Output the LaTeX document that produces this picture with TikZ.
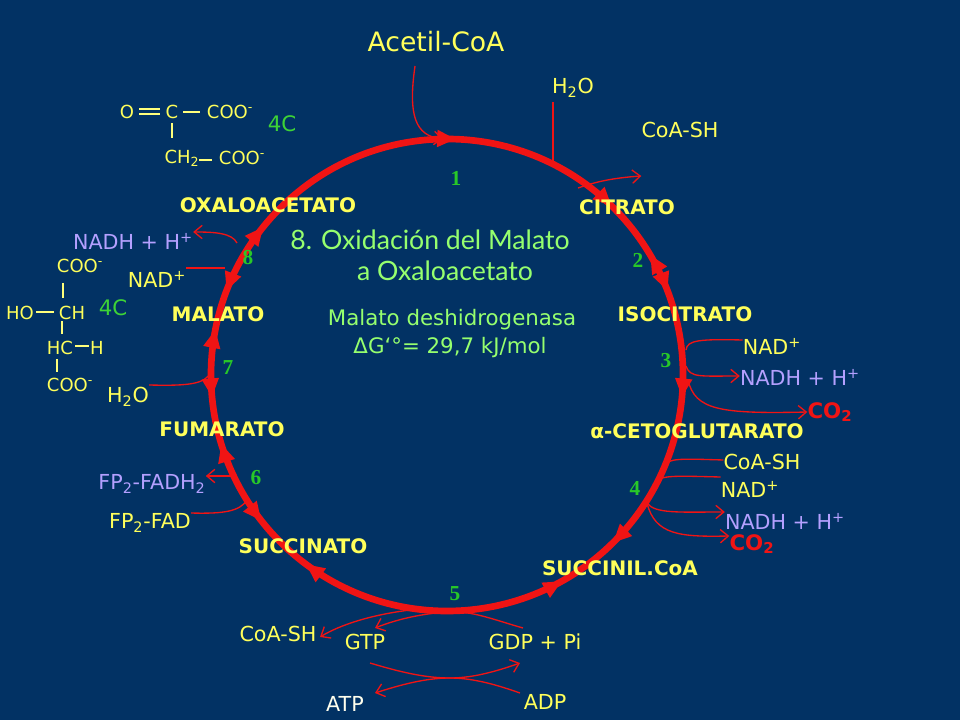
\documentclass[tikz,border=0pt]{standalone}
\usepackage{fontspec}
\setmainfont{DejaVu Sans}
\newfontfamily\numfont{Liberation Serif}
\newfontfamily\titlefont{Lato}
\usetikzlibrary{arrows.meta,decorations.markings}
\definecolor{bgblue}{RGB}{2,50,100}
\definecolor{ylw}{RGB}{255,255,90}
\definecolor{lila}{RGB}{180,160,255}
\definecolor{lgreen}{RGB}{150,255,110}
\definecolor{ngreen}{RGB}{40,200,40}
\definecolor{cred}{RGB}{240,20,20}
\begin{document}
\begin{tikzpicture}[x=0.75pt,y=-0.75pt,
    lbl/.style={text=ylw, font=\fontsize{15.5}{17}\selectfont, inner sep=0pt},
    mol/.style={text=ylw, font=\fontsize{13.5}{15}\selectfont, inner sep=0pt},
    cpd/.style={text=ylw, font=\fontsize{15}{17}\selectfont\bfseries, inner sep=0pt},
    nadh/.style={lbl, text=lila},
    num/.style={text=ngreen, font=\fontsize{16}{18}\selectfont\numfont\bfseries, inner sep=0pt},
    note/.style={text=lgreen, font=\fontsize{20}{24}\selectfont\titlefont, inner sep=0pt},
    side/.style={draw=cred, line width=1pt},
    sidearr/.style={side, -{Straight Barb[length=6pt,width=10pt]}},
    bond/.style={draw=ylw!80!white, line width=0.8pt}]
  \fill[bgblue] (0,0) rectangle (960,720);
  \useasboundingbox (0,0) rectangle (960,720);

  % the cycle
  \draw[cred, line width=5pt,
    decoration={markings,
      mark=at position 0.006 with {\arrow{Triangle[length=14pt,width=12pt]}},
      mark=at position 0.123 with {\arrow{Triangle[length=14pt,width=12pt]}},
      mark=at position 0.165 with {\arrowreversed{Triangle[length=14pt,width=12pt]}},
      mark=at position 0.192 with {\arrow{Triangle[length=14pt,width=12pt]}},
      mark=at position 0.265 with {\arrow{Triangle[length=14pt,width=12pt]}},
      mark=at position 0.376 with {\arrow{Triangle[length=14pt,width=12pt]}},
      mark=at position 0.419 with {\arrowreversed{Triangle[length=14pt,width=12pt]}},
      mark=at position 0.602 with {\arrow{Triangle[length=14pt,width=12pt]}},
      mark=at position 0.644 with {\arrowreversed{Triangle[length=14pt,width=12pt]}},
      mark=at position 0.703 with {\arrow{Triangle[length=14pt,width=12pt]}},
      mark=at position 0.735 with {\arrowreversed{Triangle[length=14pt,width=12pt]}},
      mark=at position 0.781 with {\arrow{Triangle[length=14pt,width=12pt]}},
      mark=at position 0.808 with {\arrowreversed{Triangle[length=14pt,width=12pt]}},
      mark=at position 0.858 with {\arrow{Triangle[length=14pt,width=12pt]}}},
    postaction={decorate}]
    (447,139) arc[start angle=-90, end angle=270, radius=236];

  % top
  \node[lbl, font=\fontsize{20}{24}\selectfont] (acetil) at (436,42) {Acetil-CoA};
  \node[lbl] (h2oA) at (573,88) {H\textsubscript{2}O};
  \node[lbl] (coashA) at (680,130) {CoA-SH};
  \node[num] (n1) at (456,178) {1};
  \coordinate (acTop) at (415,66);
  \coordinate (acIn) at (443,139);
  \coordinate (h2oTop) at (553,102);
  \coordinate (h2oIn) at (553,165);
  \coordinate (coaOut) at (578,188);
  \draw[sidearr] (acTop) .. controls (408,115) and (415,136) .. (acIn);
  \draw[side] (h2oTop) -- (h2oIn);
  \draw[sidearr] (coaOut) .. controls (595,182) and (612,178) .. (coashA.west |- 0,176);

  % oxaloacetate formula
  \node[mol] (oO) at (127,112) {O};
  \node[mol] (oC) at (172,112) {C};
  \node[mol] (oCOO) at (230,112) {COO\textsuperscript{-}};
  \node[mol] (oCH) at (182,158) {CH\textsubscript{2}};
  \node[mol] (oCOOb) at (242,158) {COO\textsuperscript{-}};
  \draw[bond] (139,109) -- (160,109) (139,114) -- (160,114);
  \draw[bond] (183,112) -- (200,112);
  \draw[bond] (199,160) -- (212,160);
  \draw[bond] (172,123) -- (172,138);
  \node[note, text=ngreen!80!lgreen, font=\fontsize{16}{18}\selectfont] (c4a) at (282,124) {4C};

  \node[cpd] (oxal) at (268,205) {OXALOACETATO};
  \node[cpd] (citr) at (627,207) {CITRATO};
  \node[note] (t1) at (430,240) {8. Oxidación del Malato};
  \node[note] (t2) at (445,271) {a Oxaloacetato};
  \node[note, font=\fontsize{16}{19}\selectfont] (t3) at (452,320) {Malato deshidrogenasa};
  \node[note, font=\fontsize{16}{19}\selectfont] (t4) at (450,348) {ΔG`°= 29,7 kJ/mol};
  \node[num] (n2) at (638,260) {2};

  % malate formula
  \node[mol] (mCOO) at (80,266) {COO\textsuperscript{-}};
  \node[mol] (mHO) at (20,313) {HO};
  \node[mol] (mCH) at (72,313) {CH};
  \node[mol] (mHC) at (60,348) {HC};
  \node[mol] (mH) at (97,348) {H};
  \node[mol] (mCOOb) at (70,385) {COO\textsuperscript{-}};
  \draw[bond] (63,283) -- (63,298);
  \draw[bond] (36,312) -- (54,312);
  \draw[bond] (62,321) -- (62,334);
  \draw[bond] (75,346) -- (89,346);
  \draw[bond] (57,359) -- (57,372);
  \node[note, text=ngreen!80!lgreen, font=\fontsize{16}{18}\selectfont] (c4b) at (113,308) {4C};

  % step 8
  \node[nadh] (nadh8) at (133,241) {NADH + H\textsuperscript{+}};
  \node[lbl] (nad8) at (157,279) {NAD\textsuperscript{+}};
  \node[num] (n8) at (248,258) {8};
  \coordinate (c8a) at (237,243);
  \coordinate (c8b) at (225,268);
  \draw[side] (nad8.east |- 0,268) -- (c8b);
  \draw[sidearr] (c8a) .. controls (232,233) and (215,232) .. (nadh8.east |- 0,232);
  \node[cpd] (mal) at (218,314) {MALATO};

  % step 7
  \node[num] (n7) at (228,368) {7};
  \node[lbl] (h2o7) at (128,397) {H\textsubscript{2}O};
  \coordinate (c7) at (211,372);
  \draw[side] (h2o7.east |- 0,385) .. controls (190,386) and (205,384) .. (c7);
  \node[cpd] (fum) at (222,429) {FUMARATO};

  % step 6
  \node[num] (n6) at (256,478) {6};
  \node[nadh] (fadh) at (152,484) {FP\textsubscript{2}-FADH\textsubscript{2}};
  \node[lbl] (fad) at (150,523) {FP\textsubscript{2}-FAD};
  \coordinate (c6a) at (233,476);
  \coordinate (c6b) at (247,500);
  \draw[sidearr] (c6a) -- (fadh.east |- 0,476);
  \draw[side] (fad.east |- 0,513) .. controls (225,514) and (240,511) .. (c6b);
  \node[cpd] (succ) at (303,546) {SUCCINATO};

  % step 5
  \node[num] (n5) at (455,594) {5};
  \node[cpd] (sucoa) at (620,568) {SUCCINIL.CoA};
  \node[lbl] (coash5) at (278,634) {CoA-SH};
  \node[lbl] (gtp) at (365,642) {GTP};
  \node[lbl] (gdp) at (535,642) {GDP + Pi};
  \node[lbl, text=white!90!ylw] (atp) at (345,704) {ATP};
  \node[lbl] (adp) at (545,702) {ADP};
  \coordinate (c5a) at (410,610);
  \coordinate (c5b) at (455,612);
  \coordinate (c5c) at (450,678);
  \coordinate (gdpIn) at (523,628);
  \coordinate (gtpOut) at (370,663);
  \coordinate (gdpOut) at (520,663);
  \coordinate (adpIn) at (520,693);
  \draw[sidearr] (c5a) .. controls (370,615) and (340,625) .. (320,637);
  \draw[sidearr] (gdpIn) .. controls (495,620) and (475,612) .. (c5b)
    .. controls (430,612) and (400,618) .. (375,628);
  \draw[sidearr] (gtpOut) .. controls (400,672) and (425,678) .. (c5c)
    .. controls (475,678) and (500,670) .. (gdpOut);
  \draw[sidearr] (adpIn) .. controls (500,686) and (475,678) .. (c5c)
    .. controls (425,678) and (400,685) .. (375,693);

  % step 3
  \node[cpd] (isoc) at (685,314) {ISOCITRATO};
  \node[num] (n3) at (666,361) {3};
  \node[lbl] (nad3) at (772,346) {NAD\textsuperscript{+}};
  \node[nadh] (nadh3) at (800,377) {NADH + H\textsuperscript{+}};
  \node[cpd, text=cred, font=\fontsize{16}{18}\selectfont\bfseries] (co2a) at (830,412) {CO\textsubscript{2}};
  \coordinate (c3a) at (686,350);
  \coordinate (c3b) at (686,366);
  \coordinate (c3c) at (688,380);
  \draw[side] (nad3.west |- 0,340) .. controls (700,339) and (687,340) .. (c3a);
  \draw[sidearr] (c3b) .. controls (690,378) and (700,376) .. (nadh3.west |- 0,376);
  \draw[sidearr] (c3c) .. controls (695,410) and (720,414) .. (co2a.west |- 0,412);
  \node[cpd] (akg) at (697,431) {α-CETOGLUTARATO};

  % step 4
  \node[num] (n4) at (635,488) {4};
  \node[lbl] (coash4) at (762,462) {CoA-SH};
  \node[lbl] (nad4) at (750,489) {NAD\textsuperscript{+}};
  \node[nadh] (nadh4) at (785,521) {NADH + H\textsuperscript{+}};
  \node[cpd, text=cred, font=\fontsize{16}{18}\selectfont\bfseries] (co2b) at (752,544) {CO\textsubscript{2}};
  \coordinate (c4a) at (667,463);
  \coordinate (c4b) at (657,481);
  \coordinate (c4c) at (647,503);
  \draw[side] (coash4.west |- 0,460) .. controls (690,459) and (672,458) .. (c4a);
  \draw[side] (nad4.west |- 0,477) .. controls (680,476) and (662,475) .. (c4b);
  \draw[sidearr] (c4c) .. controls (655,514) and (680,512) .. (nadh4.west |- 0,512);
  \draw[sidearr] (c4c) .. controls (655,535) and (680,537) .. (co2b.west |- 0,536);
\end{tikzpicture}
\end{document}
